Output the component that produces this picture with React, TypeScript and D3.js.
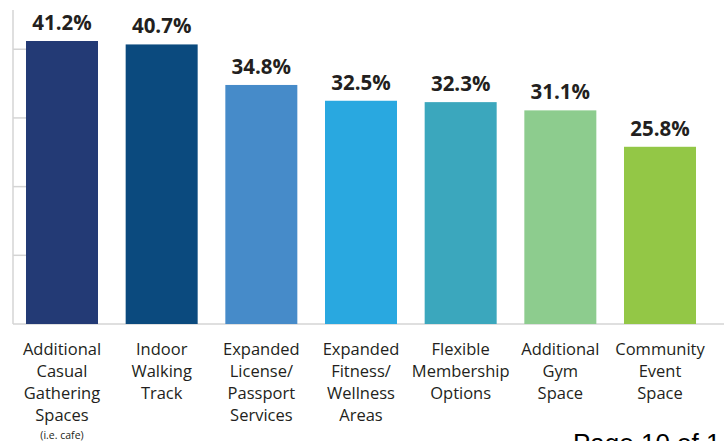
import React from "react";
import * as d3 from "d3";

const categories = [
  ["Additional", "Casual", "Gathering", "Spaces"],
  ["Indoor", "Walking", "Track"],
  ["Expanded", "License/", "Passport", "Services"],
  ["Expanded", "Fitness/", "Wellness", "Areas"],
  ["Flexible", "Membership", "Options"],
  ["Additional", "Gym", "Space"],
  ["Community", "Event", "Space"],
];
const values = [41.2, 40.7, 34.8, 32.5, 32.3, 31.1, 25.8];
const colors = ["#233a75", "#0b4a7e", "#468bc9", "#29a8e0", "#3ba7bd", "#8dcc8e", "#93c746"];
const tickValues = [10, 20, 30, 40];
const subNote = "(i.e. cafe)";

export default function App() {
  const W = 724, H = 441;
  const axisX = 13, baseY = 324;
  const x = d3
    .scaleBand<number>()
    .domain(d3.range(values.length))
    .range([13, 709])
    .paddingInner(0.2776)
    .paddingOuter(0.1304);
  const y = d3.scaleLinear().domain([0, 41.2]).range([baseY, 41]);
  const font = "'Open Sans', 'DejaVu Sans', sans-serif";
  return (
    <svg width={W} height={H} style={{ position: "absolute", left: 0, top: 0 }} fontFamily={font}>
      <rect width={W} height={H} fill="#fff" />
      {tickValues.map((t) => (
        <line key={t} x1={axisX} x2={x(0)!} y1={y(t)} y2={y(t)} stroke="#d4d4d4" strokeWidth={1.5} />
      ))}
      <line x1={axisX} x2={axisX} y1={10} y2={baseY} stroke="#d4d4d4" strokeWidth={1.5} />
      <line x1={axisX} x2={W} y1={baseY} y2={baseY} stroke="#d4d4d4" strokeWidth={1.5} />
      {values.map((v, i) => {
        const bx = x(i)!;
        const bw = x.bandwidth();
        const cx = bx + bw / 2;
        return (
          <g key={i}>
            <rect x={bx} y={y(v)} width={bw} height={baseY - y(v)} fill={colors[i]} />
            <text x={cx} y={y(v) - 11} textAnchor="middle" fontSize={20.5} fontWeight={700} fill="#231f20">
              {v.toFixed(1)}%
            </text>
            {categories[i].map((line, j) => (
              <text key={j} x={cx} y={355 + j * 22} textAnchor="middle" fontSize={16.5} fill="#231f20">
                {line}
              </text>
            ))}
            {i === 0 && (
              <text x={cx} y={439} textAnchor="middle" fontSize={10.5} fill="#231f20">
                {subNote}
              </text>
            )}
          </g>
        );
      })}
      <text x={573} y={452} fontSize={26} fontFamily="'Liberation Sans', Arial, sans-serif" fill="#000">
        Page 10 of 1
      </text>
    </svg>
  );
}
